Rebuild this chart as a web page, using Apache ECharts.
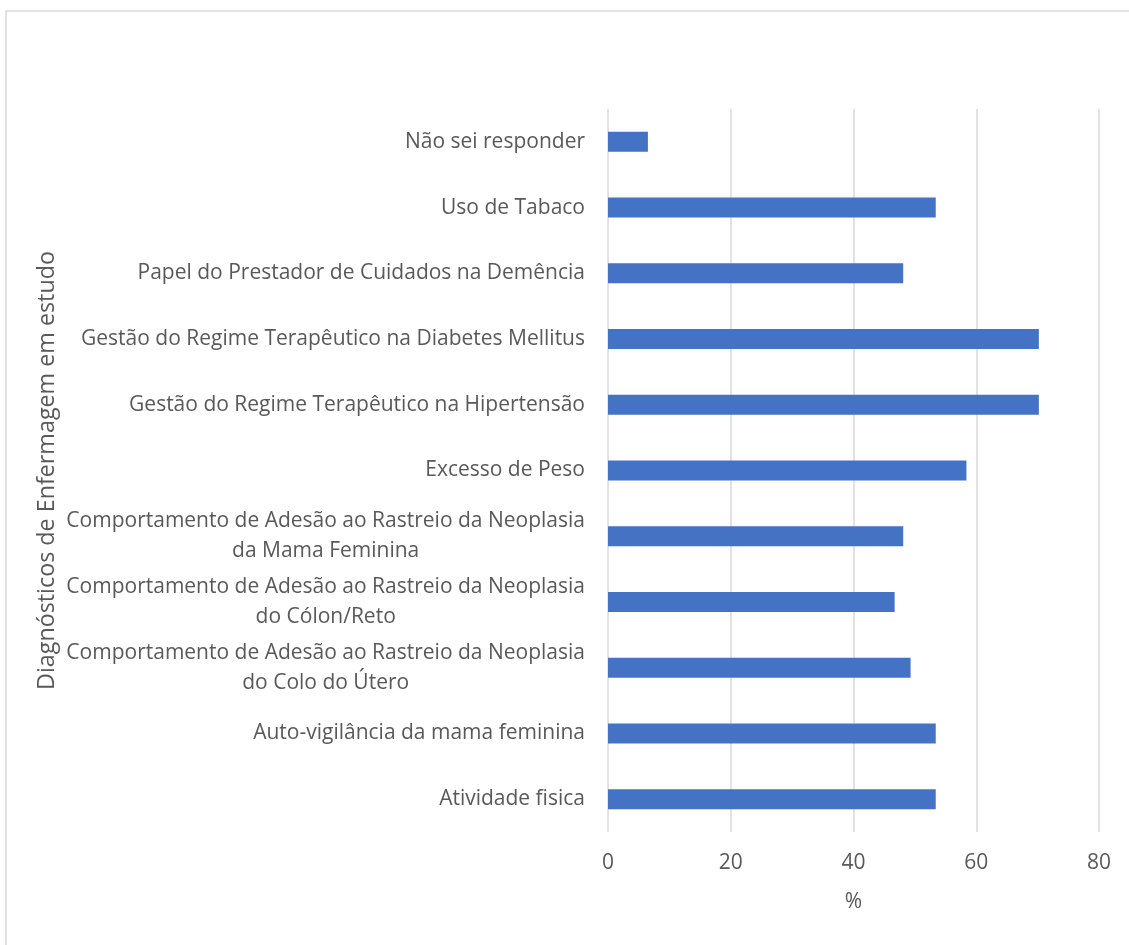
<!DOCTYPE html>
<html>
<head>
<meta charset="utf-8">
<script src="https://cdn.jsdelivr.net/npm/echarts@6/dist/echarts.min.js"></script>
<style>
  html, body { margin: 0; padding: 0; background: #ffffff; }
  #chart { width: 1129px; height: 945px; }
</style>
</head>
<body>
<div id="chart"></div>
<script>
// Categories, top to bottom
const categories = [
  'Não sei responder',
  'Uso de Tabaco',
  'Papel do Prestador de Cuidados na Demência',
  'Gestão do Regime Terapêutico na Diabetes Mellitus',
  'Gestão do Regime Terapêutico na Hipertensão',
  'Excesso de Peso',
  'Comportamento de Adesão ao Rastreio da Neoplasia\nda Mama Feminina',
  'Comportamento de Adesão ao Rastreio da Neoplasia\ndo Cólon/Reto',
  'Comportamento de Adesão ao Rastreio da Neoplasia\ndo Colo do Útero',
  'Auto-vigilância da mama feminina',
  'Atividade fisica'
];

// Percentage per diagnosis
const percentages = [6.5, 53.4, 48.1, 70.2, 70.2, 58.4, 48.1, 46.7, 49.3, 53.4, 53.4];

// Value axis ticks
const xTicks = [0, 20, 40, 60, 80];

const yTitle = 'Diagnósticos de Enfermagem em estudo';
const xTitle = '%';

const FONT = 'Open Sans';
const TEXT = '#595959';

const chart = echarts.init(document.getElementById('chart'), null, { renderer: 'canvas' });

chart.setOption({
  backgroundColor: '#ffffff',
  animation: false,
  graphic: [{
    type: 'rect',
    shape: { x: 6, y: 11, width: 1200, height: 1000 },
    style: { fill: 'none', stroke: '#d9d9d9', lineWidth: 1.5 },
    silent: true,
    z: -1
  }],
  grid: { left: 608, right: 30, top: 109, bottom: 113, containLabel: false },
  xAxis: {
    type: 'value',
    min: xTicks[0],
    max: xTicks[xTicks.length - 1],
    interval: xTicks[1] - xTicks[0],
    name: xTitle,
    nameLocation: 'middle',
    nameGap: 60,
    nameTextStyle: { fontFamily: FONT, fontSize: 21, color: TEXT },
    axisLine: { show: false },
    axisTick: { show: false },
    axisLabel: { margin: 21, fontFamily: FONT, fontSize: 21, color: TEXT },
    splitLine: { show: true, lineStyle: { color: '#d9d9d9', width: 1.5 } }
  },
  yAxis: {
    type: 'category',
    data: categories,
    inverse: true,
    name: yTitle,
    nameLocation: 'middle',
    nameGap: 549,
    nameRotate: 90,
    nameTextStyle: { fontFamily: FONT, fontSize: 23.3, color: TEXT },
    axisLine: { show: false },
    axisTick: { show: false },
    splitLine: { show: false },
    axisLabel: {
      margin: 23,
      formatter: function (v) {
        return v.split('\n').map(function (l) { return '{c|' + l + '}'; }).join('\n');
      },
      rich: {
        c: { align: 'center', fontFamily: FONT, fontSize: 21, color: TEXT, lineHeight: 30 }
      }
    }
  },
  series: [{
    type: 'bar',
    data: percentages,
    barWidth: 20,
    itemStyle: { color: '#4472c4' }
  }]
});
</script>
</body>
</html>
